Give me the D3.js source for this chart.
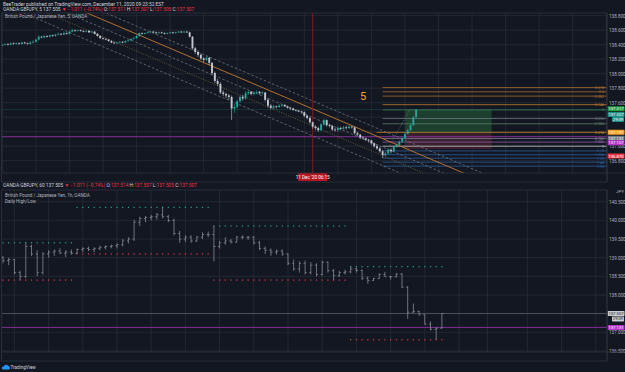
<!DOCTYPE html>
<html><head><meta charset="utf-8">
<script src="https://cdn.jsdelivr.net/npm/d3@7"></script>
<style>body{margin:0;background:#131722;overflow:hidden}svg{display:block;font-family:Roboto,"Liberation Sans",Arial,sans-serif}</style>
</head><body><svg id="c" width="625" height="372"></svg>
<script>
// ---------------- DATA ----------------
// 5-minute GBPJPY candles, Dec 10 21:00 -> Dec 11 09:20
const m5Start = "2020-12-10T21:00:00Z";
const m5FirstOpen = 138.39;
const m5Close = [
138.40,138.41,138.40,138.42,138.41,138.42,138.41,138.43,138.42,138.41,138.43,138.44,
138.47,138.51,138.50,138.52,138.51,138.53,138.52,138.54,138.55,138.54,138.56,138.55,
138.58,138.60,138.59,138.60,138.59,138.58,138.59,138.57,138.58,138.55,138.52,138.49,
138.48,138.47,138.45,138.43,138.42,138.43,138.44,138.43,138.45,138.46,138.48,138.49,
138.52,138.56,138.55,138.56,138.57,138.58,138.57,138.56,138.57,138.56,138.55,138.56,
138.57,138.56,138.57,138.58,138.57,138.58,138.57,138.51,138.35,138.30,138.26,138.21,
138.19,138.22,138.15,138.01,137.90,137.86,137.74,137.72,137.70,137.68,137.52,137.54,
137.62,137.68,137.66,137.73,137.75,137.72,137.74,137.75,137.73,137.74,137.64,137.56,
137.53,137.55,137.54,137.56,137.57,137.55,137.53,137.52,137.50,137.49,137.48,137.47,
137.42,137.39,137.33,137.27,137.25,137.22,137.30,137.36,137.29,137.28,137.23,137.22,
137.25,137.24,137.26,137.25,137.27,137.26,137.18,137.16,137.12,137.11,137.09,137.08,
137.04,137.00,136.97,136.93,136.88,136.90,136.95,136.93,137.00,137.02,137.06,137.11,
137.17,137.22,137.29,137.40,137.505];
const m5High = [
138.41,138.42,138.42,138.43,138.43,138.43,138.43,138.44,138.44,138.43,138.45,138.46,
138.48,138.53,138.52,138.53,138.53,138.54,138.54,138.55,138.57,138.56,138.58,138.57,
138.59,138.62,138.61,138.61,138.61,138.60,138.60,138.60,138.59,138.59,138.56,138.53,
138.50,138.49,138.48,138.46,138.44,138.44,138.45,138.45,138.46,138.47,138.49,138.51,
138.53,138.57,138.57,138.57,138.58,138.59,138.59,138.58,138.58,138.58,138.57,138.57,
138.58,138.58,138.58,138.59,138.59,138.59,138.59,138.58,138.52,138.37,138.32,138.28,
138.23,138.24,138.23,138.16,138.03,137.93,137.88,137.77,137.74,137.72,137.70,137.58,
137.64,137.70,137.71,137.76,137.77,137.76,137.75,137.77,137.76,137.76,137.75,137.66,
137.58,137.57,137.56,137.58,137.58,137.58,137.56,137.54,137.53,137.51,137.50,137.49,
137.48,137.43,137.40,137.34,137.29,137.27,137.32,137.38,137.37,137.31,137.29,137.25,
137.27,137.27,137.28,137.28,137.29,137.28,137.27,137.20,137.17,137.14,137.12,137.10,
137.09,137.05,137.02,136.99,136.95,136.92,136.96,136.97,137.01,137.04,137.08,137.13,
137.19,137.24,137.31,137.42,137.51];
const m5Low = [
138.38,138.39,138.39,138.39,138.40,138.40,138.40,138.40,138.41,138.40,138.40,138.42,
138.43,138.46,138.49,138.49,138.50,138.50,138.51,138.51,138.53,138.53,138.53,138.54,
138.54,138.57,138.58,138.58,138.58,138.57,138.57,138.56,138.56,138.54,138.51,138.48,
138.47,138.46,138.44,138.42,138.41,138.41,138.42,138.42,138.42,138.44,138.45,138.47,
138.48,138.51,138.54,138.54,138.55,138.56,138.56,138.55,138.55,138.55,138.54,138.54,
138.55,138.55,138.55,138.56,138.56,138.56,138.56,138.50,138.33,138.27,138.23,138.19,
138.16,138.17,138.12,137.98,137.87,137.83,137.72,137.69,137.66,137.64,137.36,137.46,
137.52,137.60,137.63,137.64,137.71,137.70,137.70,137.72,137.71,137.71,137.62,137.53,
137.51,137.51,137.52,137.53,137.54,137.54,137.52,137.50,137.49,137.48,137.47,137.45,
137.40,137.37,137.31,137.24,137.22,137.20,137.21,137.28,137.27,137.26,137.21,137.20,
137.20,137.22,137.23,137.23,137.24,137.24,137.16,137.14,137.10,137.09,137.07,137.05,
137.02,136.98,136.95,136.91,136.84,136.86,136.88,136.90,136.92,136.98,137.01,137.05,
137.10,137.16,137.21,137.28,137.39];

// hourly GBPJPY bars, Dec 8 04:00 -> Dec 11 09:00
const h1Start = "2020-12-08T04:00:00Z";
const h1Open = [
139.00,138.92,138.95,138.60,138.50,139.30,139.10,138.60,139.10,139.15,139.18,139.12,139.15,
139.12,139.22,139.25,139.22,139.25,139.28,139.30,
139.32,139.35,139.45,139.50,139.95,140.05,140.08,140.10,140.15,140.10,140.00,139.65,139.50,139.55,139.45,139.55,139.62,
139.62,139.30,139.40,139.45,139.42,139.55,139.55,
139.55,139.40,139.25,139.20,139.15,139.18,139.10,138.85,138.70,138.85,138.60,138.80,138.55,138.88,138.65,138.52,138.60,
138.62,138.70,138.66,138.45,138.39,138.44,138.55,
138.49,138.49,138.56,138.21,137.54,137.56,137.47,137.22,137.08,137.11];
const h1High = [
139.05,139.00,138.97,138.65,139.40,139.35,139.20,139.15,139.20,139.22,139.25,139.20,139.22,
139.25,139.28,139.30,139.28,139.32,139.33,139.35,
139.38,139.50,139.55,140.02,140.10,140.12,140.15,140.20,140.35,140.15,140.05,139.72,139.60,139.60,139.58,139.68,139.70,
139.85,139.45,139.55,139.50,139.58,139.60,139.58,
139.58,139.45,139.30,139.25,139.22,139.22,139.12,138.95,138.90,138.92,138.88,138.85,138.92,138.90,138.70,138.65,138.68,
138.76,138.74,138.68,138.50,138.46,138.58,138.62,
138.51,138.59,138.59,138.24,137.77,137.58,137.48,137.29,137.13,137.51];
const h1Low = [
138.85,138.80,138.55,138.40,138.45,139.05,138.50,138.55,139.00,139.05,139.10,139.02,139.08,
139.10,139.15,139.18,139.15,139.20,139.22,139.25,
139.25,139.30,139.38,139.45,139.85,139.95,140.00,140.02,140.05,139.95,139.60,139.40,139.42,139.40,139.42,139.50,139.55,
138.90,139.25,139.35,139.38,139.40,139.50,139.48,
139.35,139.20,139.10,139.05,139.08,139.05,138.80,138.65,138.60,138.55,138.55,138.50,138.52,138.60,138.40,138.48,138.55,
138.58,138.60,138.40,138.30,138.38,138.43,138.48,
138.41,138.47,138.19,137.36,137.52,137.45,137.20,137.05,136.80,137.10];
const h1Close = [
138.92,138.95,138.60,138.50,139.30,139.10,138.60,139.10,139.15,139.18,139.12,139.15,139.12,
139.22,139.25,139.22,139.25,139.28,139.30,139.32,
139.35,139.45,139.50,139.95,140.05,140.08,140.10,140.15,140.10,140.00,139.65,139.50,139.55,139.45,139.55,139.62,139.62,
139.30,139.40,139.45,139.42,139.55,139.55,139.55,
139.40,139.25,139.20,139.15,139.18,139.10,138.85,138.70,138.85,138.60,138.80,138.55,138.88,138.65,138.52,138.60,138.62,
138.70,138.66,138.45,138.39,138.44,138.55,138.49,
138.49,138.56,138.21,137.54,137.56,137.47,137.22,137.08,137.11,137.505];

// Daily High/Low indicator (forex day starts 17:00)
const dayStarts = ["2020-12-08T04:00:00Z","2020-12-08T17:00:00Z","2020-12-09T17:00:00Z","2020-12-10T17:00:00Z"];
const dayEnds   = ["2020-12-08T16:00:00Z","2020-12-09T16:00:00Z","2020-12-10T16:00:00Z","2020-12-11T09:00:00Z"];
const dayHighs  = [139.40, 140.35, 139.85, 138.76];
const dayLows   = [138.40, 139.10, 138.40, 136.80];

// axis ticks
const topPriceTicks = [136.8,137.0,137.2,137.4,137.6,137.8,138.0,138.2,138.4,138.6,138.8];
const topTimeTicks = ["2020-12-10T21:00:00Z","2020-12-10T22:00:00Z","2020-12-10T23:00:00Z","2020-12-11T00:00:00Z","2020-12-11T01:00:00Z","2020-12-11T02:00:00Z","2020-12-11T03:00:00Z","2020-12-11T04:00:00Z","2020-12-11T05:00:00Z","2020-12-11T06:00:00Z","2020-12-11T07:00:00Z","2020-12-11T08:00:00Z","2020-12-11T09:00:00Z","2020-12-11T10:00:00Z","2020-12-11T11:00:00Z","2020-12-11T12:00:00Z","2020-12-11T13:00:00Z","2020-12-11T14:00:00Z","2020-12-11T15:00:00Z"];
const topTimeLabels = ["21:00","22:00","23:00","11","01:00","02:00","03:00","04:00","05:00","06:00","07:00","08:00","09:00","10:00","11:00","12:00","13:00","14:00","15:00"];
const botPriceTicks = [136.5,137.0,137.5,138.0,138.5,139.0,139.5,140.0,140.5];
const botTimeTicks = ["2020-12-08T06:00:00Z","2020-12-08T12:00:00Z","2020-12-08T18:00:00Z","2020-12-09T00:00:00Z","2020-12-09T06:00:00Z","2020-12-09T12:00:00Z","2020-12-09T18:00:00Z","2020-12-10T00:00:00Z","2020-12-10T06:00:00Z","2020-12-10T12:00:00Z","2020-12-10T18:00:00Z","2020-12-11T00:00:00Z","2020-12-11T06:00:00Z","2020-12-11T12:00:00Z","2020-12-13T17:00:00Z","2020-12-14T00:00:00Z","2020-12-14T06:00:00Z","2020-12-14T12:00:00Z"];
const botTimeLabels = ["06:00","12:00","18:00","9","06:00","12:00","18:00","10","06:00","12:00","18:00","11","06:00","12:00","13","14","06:00","12:00"];

// drawings
const channelAnchor = {t:"2020-12-11T00:43:00Z", p:138.603};   // orange trend line point
const channelSlopePerHour = -0.1967;
const channelOffsets = [-0.11, 0, 0.117, 0.235, 0.372];        // price offsets of parallel lines
const channelStyles = ["dash","orange","dash","dot","dash"];
const fibZero = 137.50, fibOne = 137.00;
const fibStart = "2020-12-11T08:20:00Z";
const fibLevels = [-0.618,-0.5,-0.382,-0.146,0,0.236,0.382,0.618,0.786,0.886,1,1.13,1.236,1.33,1.44,1.55];
const fibColors = ["#a8692c","#a8692c","#a8692c","#c27a2a","#3d7a55","#6b717d","#5c7a66","#c9852a","#80848f","#8e5aa8","#c8cad0","#2d5d9c","#2d5d9c","#2d5d9c","#2d5d9c","#2d5d9c"];
const fibLabels = ["-0.618","-0.5","-0.382","-0.146","0","0.236","0.382","0.618","0.786","0.886","1","1.13","1.236","1.33","1.44","1.55"];
const fibConnector = [{t:"2020-12-11T08:20:00Z",p:136.84},{t:"2020-12-11T09:10:00Z",p:137.52}];
const posStart = "2020-12-11T09:00:00Z", posEnd = "2020-12-11T11:35:00Z";
const posTarget = 137.51, posEntry = 137.18, posStop = 136.96;
const purpleLevel = 137.131;
const crossTime = "2020-12-11T06:15:00Z";
const waveLabel = {t:"2020-12-11T07:45:00Z", p:137.64, text:"5"};
const topBoxes = [
 {p:137.517, text:"137.517", bg:"#1e9e3e", fg:"#fff", dy:0},
 {p:137.507, text:"137.507", bg:"#1f8f87", fg:"#fff", dy:5},
 {p:137.507, text:"29:09", bg:"#1f8f87", fg:"#fff", dy:10},
 {p:137.191, text:"137.191", bg:"#f59f1e", fg:"#fff", dy:0},
 {p:137.131, text:"137.131", bg:"#787b86", fg:"#fff", dy:1.5},
 {p:137.107, text:"137.107", bg:"#b532c8", fg:"#fff", dy:4.3},
 {p:136.864, text:"136.870", bg:"#f23645", fg:"#fff", dy:0}
];
const botBoxes = [
 {p:137.507, text:"137.507", bg:"#c9cbd1", fg:"#131722", dy:0},
 {p:137.507, text:"29:09", bg:"#c9cbd1", fg:"#131722", dy:5.5},
 {p:137.131, text:"137.131", bg:"#b532c8", fg:"#fff", dy:0}
];

// ---------------- LAYOUT ----------------
const svg = d3.select("#c");
const W = 625, AX = 607;
const T = {y0:13, y1:173};
const B = {y0:190, y1:352};
const bgc = "#131722", grid = "#2a2e39", txt = "#b2b5be", border = "#2f3340";
const fs = 4.6;
const P = s => new Date(s);
const HOUR = 3600e3;
const UP = "#26a69a", DOWN = "#c3c6ce";

svg.append("rect").attr("width",W).attr("height",372).attr("fill",bgc);

// scales
const t00 = Date.UTC(2020,11,11,0,0);
const pxPerHourTop = 33.55;
const xTop = d3.scaleUtc()
  .domain([new Date(t00 - 103/pxPerHourTop*HOUR), new Date(t00 + (AX-103)/pxPerHourTop*HOUR)])
  .range([0, AX]);
const yTop = d3.scaleLinear().domain([137,138]).range([146.2,73.7]);

const gapStart = Date.UTC(2020,11,11,17), gapEnd = Date.UTC(2020,11,13,17);
const base9 = Date.UTC(2020,11,9,0);
function tradeHours(d){
  let ms = +d;
  if (ms >= gapEnd) ms -= (gapEnd-gapStart);
  else if (ms > gapStart) ms = gapStart;
  return (ms - base9)/HOUR;
}
const pxPerHourBot = 5.7;
const xBotLin = d3.scaleLinear().domain([-117/pxPerHourBot, (AX-117)/pxPerHourBot]).range([0,AX]);
const xBot = d => xBotLin(tradeHours(d));
const yBot = d3.scaleLinear().domain([137,138]).range([332.3,295.0]);

// clip paths
const defs = svg.append("defs");
defs.append("clipPath").attr("id","ctop").append("rect").attr("x",1.5).attr("y",T.y0).attr("width",AX-1.5).attr("height",T.y1-T.y0);
defs.append("clipPath").attr("id","cbot").append("rect").attr("x",1.5).attr("y",B.y0).attr("width",AX-1.5).attr("height",B.y1-B.y0);
defs.append("clipPath").attr("id","caxT").append("rect").attr("x",0).attr("y",T.y1).attr("width",AX).attr("height",10);
defs.append("clipPath").attr("id","caxB").append("rect").attr("x",0).attr("y",B.y1).attr("width",AX).attr("height",10);

// ---------- header texts ----------
function txtAt(g,x,y,s,col,size,weight){return g.append("text").attr("x",x).attr("y",y).attr("fill",col||txt).attr("font-size",size||fs).attr("font-weight",weight||400).text(s);}
txtAt(svg,3,5.5,"BeeTrader published on TradingView.com, December 11, 2020 09:23:52 EST","#d1d4dc",4.8);
function ohlcLine(y, tf, o){
  const t = svg.append("text").attr("x",3).attr("y",y).attr("font-size",4.8).attr("fill","#d1d4dc");
  t.append("tspan").text("OANDA:GBPJPY, "+tf+"  137.505 ");
  t.append("tspan").attr("fill","#f23645").text("▼ −1.011 (−0.74%) ");
  t.append("tspan").text("O:"); t.append("tspan").attr("fill","#f23645").text(o+" ");
  t.append("tspan").text("H:"); t.append("tspan").attr("fill","#f23645").text("137.507 ");
  t.append("tspan").text("L:"); t.append("tspan").attr("fill","#f23645").text("137.505 ");
  t.append("tspan").text("C:"); t.append("tspan").attr("fill","#f23645").text("137.507");
}
ohlcLine(11,"5","137.511");
ohlcLine(187,"60","137.514");

// ---------- TOP PANE ----------
const gT = svg.append("g");
gT.append("g").selectAll("line").data(topTimeTicks.map(P)).join("line")
  .attr("x1",d=>xTop(d)).attr("x2",d=>xTop(d)).attr("y1",T.y0).attr("y2",T.y1).attr("stroke",grid).attr("stroke-width",0.7);
gT.append("g").selectAll("line").data(topPriceTicks).join("line")
  .attr("x1",1.5).attr("x2",AX).attr("y1",d=>yTop(d)).attr("y2",d=>yTop(d)).attr("stroke",grid).attr("stroke-width",0.7);

const tp = gT.append("g").attr("clip-path","url(#ctop)");
tp.append("rect").attr("x",xTop(P(posStart))).attr("width",xTop(P(posEnd))-xTop(P(posStart)))
  .attr("y",yTop(posTarget)).attr("height",yTop(posEntry)-yTop(posTarget)).attr("fill","#1d3f2e");
tp.append("rect").attr("x",xTop(P(posStart))).attr("width",xTop(P(posEnd))-xTop(P(posStart)))
  .attr("y",yTop(posEntry)).attr("height",yTop(posStop)-yTop(posEntry)).attr("fill","#3a1f2c");

tp.append("line").attr("x1",1.5).attr("x2",AX).attr("y1",yTop(137.505)).attr("y2",yTop(137.505))
  .attr("stroke","#1f6b5f").attr("stroke-width",0.7).attr("stroke-dasharray","1,1");
tp.append("line").attr("x1",1.5).attr("x2",AX).attr("y1",yTop(purpleLevel)).attr("y2",yTop(purpleLevel))
  .attr("stroke","#8e2fa3").attr("stroke-width",0.9);

const fs0 = xTop(P(fibStart));
fibLevels.forEach((L,i)=>{
  const p = fibZero - L*(fibZero-fibOne);
  const y = yTop(p);
  tp.append("line").attr("x1", L===0.618? fs0-6 : fs0).attr("x2",AX).attr("y1",y).attr("y2",y)
    .attr("stroke",fibColors[i]).attr("stroke-width",0.8);
  tp.append("text").attr("x",AX-3).attr("y",y+1.4).attr("text-anchor","end").attr("font-size",3.6)
    .attr("fill",fibColors[i]==="#c8cad0"?"#d1d4dc":fibColors[i]).text(fibLabels[i]);
});
tp.append("path").attr("d",d3.line().x(d=>xTop(P(d.t))).y(d=>yTop(d.p))(fibConnector))
  .attr("stroke","#787b86").attr("stroke-width",0.7).attr("stroke-dasharray","1,1.5").attr("fill","none");

const tA = +P(channelAnchor.t);
const tL = +xTop.domain()[0], tR = +xTop.domain()[1];
channelOffsets.forEach((off,i)=>{
  const f = t => channelAnchor.p + channelSlopePerHour*((t - tA)/HOUR) - off;
  const pts = [tL - 3*HOUR, tR].map(t=>({t, p:f(t)}));
  const st = channelStyles[i];
  tp.append("line").attr("x1",xTop(new Date(pts[0].t))).attr("y1",yTop(pts[0].p))
    .attr("x2",xTop(new Date(pts[1].t))).attr("y2",yTop(pts[1].p))
    .attr("stroke", st==="orange"?"#c7792e": st==="dot"?"#8a7a3a":"#7d818c")
    .attr("stroke-width", st==="orange"?0.9:0.7)
    .attr("stroke-dasharray", st==="orange"?null: st==="dot"?"1,1.5":"2.5,2");
});

tp.append("line").attr("x1",xTop(P(crossTime))).attr("x2",xTop(P(crossTime))).attr("y1",T.y0).attr("y2",T.y1)
  .attr("stroke","#9b1c25").attr("stroke-width",0.8);

const m5 = m5Close.map((c,i)=>({t:new Date(+P(m5Start)+i*5*60e3), o:i?m5Close[i-1]:m5FirstOpen, h:m5High[i], l:m5Low[i], c}));
const cg = tp.append("g");
cg.selectAll("line").data(m5).join("line")
  .attr("x1",d=>xTop(d.t)).attr("x2",d=>xTop(d.t)).attr("y1",d=>yTop(d.h)).attr("y2",d=>yTop(d.l))
  .attr("stroke",d=>d.c>=d.o?UP:DOWN).attr("stroke-width",0.6);
cg.selectAll("rect").data(m5).join("rect")
  .attr("x",d=>xTop(d.t)-0.95).attr("width",1.9)
  .attr("y",d=>yTop(Math.max(d.o,d.c))).attr("height",d=>Math.max(0.6,Math.abs(yTop(d.o)-yTop(d.c))))
  .attr("fill",d=>d.c>=d.o?UP:DOWN);

tp.append("text").attr("x",xTop(P(waveLabel.t))).attr("y",yTop(waveLabel.p)).attr("font-size",11)
  .attr("fill","#f6a524").attr("text-anchor","middle").text(waveLabel.text);

txtAt(gT,5,18,"British Pound / Japanese Yen, 5, OANDA","#b2b5be",4.6);

function priceAxis(scale, ticks, list){
  const boxYs = list.map(b=>scale(b.p)+b.dy);
  const vis = ticks.filter(v=>boxYs.every(y=>Math.abs(scale(v)-y)>2.5));
  const ax = d3.axisRight(scale).tickValues(vis).tickFormat(d3.format(".3f")).tickSize(0).tickPadding(2);
  const g = svg.append("g").attr("transform",`translate(${AX},0)`).call(ax);
  g.select(".domain").remove();
  g.selectAll("text").attr("fill",txt).attr("font-size",fs).attr("font-family","Roboto,Arial,sans-serif");
}
priceAxis(yTop, topPriceTicks, topBoxes);

const cx = xTop(P(crossTime));
const topTickObjs = topTimeTicks.map((s,i)=>({t:P(s),label:topTimeLabels[i]})).filter(d=>Math.abs(xTop(d.t)-cx)>20);
const xAxT = d3.axisBottom(xTop).tickValues(topTickObjs.map(d=>d.t)).tickFormat((d,i)=>topTickObjs[i].label).tickSize(0).tickPadding(2.5);
const gxT = svg.append("g").attr("transform",`translate(0,${T.y1})`).attr("clip-path","url(#caxT)").call(xAxT);
gxT.select(".domain").remove();
gxT.selectAll("text").attr("fill",txt).attr("font-size",fs).attr("font-family","Roboto,Arial,sans-serif");

svg.append("rect").attr("x",cx-14.5).attr("y",T.y1).attr("width",29).attr("height",8).attr("fill","#b5161f");
svg.append("text").attr("x",cx).attr("y",T.y1+5.6).attr("text-anchor","middle").attr("font-size",4.6).attr("fill","#fff").text("11 Dec '20  06:15");

function boxes(list, ys){
  list.forEach(b=>{
    const y = ys(b.p)+b.dy;
    const long = b.text.length>5;
    const w = long?17:12;
    svg.append("rect").attr("x",AX+(long?0.5:5)).attr("y",y-2.5).attr("width",w).attr("height",5).attr("fill",b.bg).attr("rx",0.7);
    svg.append("text").attr("x",AX+(long?9:11)).attr("y",y+1.5).attr("text-anchor","middle").attr("font-size",4.2).attr("fill",b.fg).text(b.text);
  });
}
boxes(topBoxes, yTop);

// ---------- BOTTOM PANE ----------
const gB = svg.append("g");
gB.append("g").selectAll("line").data(botTimeTicks.map(P)).join("line")
  .attr("x1",d=>xBot(d)).attr("x2",d=>xBot(d)).attr("y1",B.y0).attr("y2",B.y1).attr("stroke",grid).attr("stroke-width",0.7);
gB.append("g").selectAll("line").data(botPriceTicks).join("line")
  .attr("x1",1.5).attr("x2",AX).attr("y1",d=>yBot(d)).attr("y2",d=>yBot(d)).attr("stroke",grid).attr("stroke-width",0.7);

const bp = gB.append("g").attr("clip-path","url(#cbot)");
bp.append("line").attr("x1",1.5).attr("x2",AX).attr("y1",yBot(137.505)).attr("y2",yBot(137.505)).attr("stroke","#5d616b").attr("stroke-width",0.7);
bp.append("line").attr("x1",1.5).attr("x2",AX).attr("y1",yBot(purpleLevel)).attr("y2",yBot(purpleLevel)).attr("stroke","#8e2fa3").attr("stroke-width",0.9);

dayStarts.forEach((s,i)=>{
  const hrs = d3.utcHours(P(s), new Date(+P(dayEnds[i])+1));
  bp.append("g").selectAll("rect").data(hrs).join("rect")
    .attr("x",d=>xBot(d)-0.6).attr("y",yBot(dayHighs[i])-0.6).attr("width",1.2).attr("height",1.2).attr("fill","#26a69a");
  bp.append("g").selectAll("rect").data(hrs).join("rect")
    .attr("x",d=>xBot(d)-0.6).attr("y",yBot(dayLows[i])-0.6).attr("width",1.2).attr("height",1.2).attr("fill","#f23645");
});

const h1 = h1Close.map((c,i)=>({t:new Date(+P(h1Start)+i*HOUR), o:h1Open[i], h:h1High[i], l:h1Low[i], c}));
const bg = bp.append("g").attr("stroke","#9598a1").attr("stroke-width",0.7);
bg.selectAll("path").data(h1).join("path")
  .attr("d",d=>{const x=xBot(d.t);return `M${x},${yBot(d.h)}V${yBot(d.l)}M${x-1.6},${yBot(d.o)}H${x}M${x},${yBot(d.c)}H${x+1.6}`;})
  .attr("fill","none");

txtAt(gB,5,197,"British Pound / Japanese Yen, 1h, OANDA","#b2b5be",4.6);
txtAt(gB,5,203,"Daily High/Low","#b2b5be",4.6);

priceAxis(yBot, botPriceTicks, botBoxes);
txtAt(svg,AX+9,193,"JPY",txt,4.4);

const xAxB = d3.axisBottom(d3.scaleLinear().domain(xBotLin.domain()).range(xBotLin.range()))
  .tickValues(botTimeTicks.map(s=>tradeHours(P(s)))).tickFormat((d,i)=>botTimeLabels[i]).tickSize(0).tickPadding(2.5);
const gxB = svg.append("g").attr("transform",`translate(0,${B.y1})`).attr("clip-path","url(#caxB)").call(xAxB);
gxB.select(".domain").remove();
gxB.selectAll("text").attr("fill",txt).attr("font-size",fs).attr("font-family","Roboto,Arial,sans-serif");

boxes(botBoxes, yBot);

// borders
const bs = svg.append("g").attr("fill","none").attr("stroke",border).attr("stroke-width",0.8);
bs.append("rect").attr("x",1.5).attr("y",T.y0).attr("width",AX-1.5).attr("height",T.y1-T.y0+9);
bs.append("line").attr("x1",1.5).attr("x2",W).attr("y1",T.y1).attr("y2",T.y1);
bs.append("line").attr("x1",AX).attr("x2",AX).attr("y1",T.y0).attr("y2",T.y1+9);
bs.append("rect").attr("x",1.5).attr("y",B.y0).attr("width",AX-1.5).attr("height",B.y1-B.y0+9);
bs.append("line").attr("x1",1.5).attr("x2",W).attr("y1",B.y1).attr("y2",B.y1);
bs.append("line").attr("x1",AX).attr("x2",AX).attr("y1",B.y0).attr("y2",B.y1+9);

const lg = svg.append("g");
lg.append("path").attr("d","M3,369.5 h6 a1.8,1.8 0 0 0 -0.8,-3.4 a2.4,2.4 0 0 0 -4.4,0.4 a1.5,1.5 0 0 0 -0.8,3z").attr("fill","#2196f3");
txtAt(lg,10.5,369,"TradingView","#d1d4dc",4.6);
</script></body></html>
